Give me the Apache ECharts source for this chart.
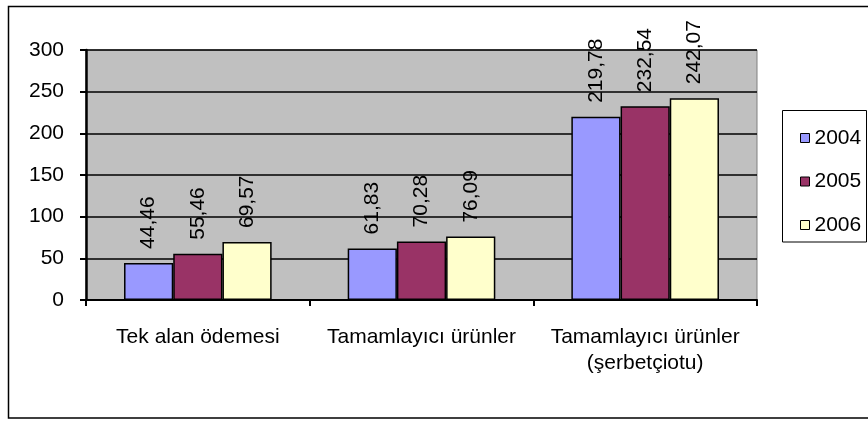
<!DOCTYPE html>
<html>
<head>
<meta charset="utf-8">
<script src="https://cdn.jsdelivr.net/npm/echarts@6/dist/echarts.min.js"></script>
<style>
  html, body { margin: 0; padding: 0; background: #fff; }
  #chart { width: 868px; height: 421px; }
</style>
</head>
<body>
<div id="chart"></div>
<script>
// kategoriler ve yıllar
const categories = ['Tek alan ödemesi', 'Tamamlayıcı ürünler', 'Tamamlayıcı ürünler\n(şerbetçiotu)']
const years = ['2004', '2005', '2006']
const values2004 = [44.46, 61.83, 219.78]
const values2005 = [55.46, 70.28, 232.54]
const values2006 = [69.57, 76.09, 242.07]
const yTicks = [0, 50, 100, 150, 200, 250, 300]

const colors = ['#9999FF', '#993366', '#FFFFCC']
const font = 'Liberation Sans, Arial, sans-serif'
const fs = 21

let myChart = echarts.init(document.getElementById('chart'))

function makeSeries(name, data, color) {
  return {
    name: name,
    type: 'bar',
    data: data,
    barGap: '0%',
    barCategoryGap: '34%',
    itemStyle: {
      color: color,
      borderColor: '#000',
      borderWidth: 1.5
    },
    label: {
      show: true,
      position: 'top',
      rotate: 90,
      align: 'left',
      verticalAlign: 'middle',
      distance: 14,
      fontFamily: font,
      fontSize: fs,
      color: '#000',
      formatter: p => p.value.toFixed(2).replace('.', ',')
    }
  }
}

let option = {
  backgroundColor: '#fff',
  animation: false,
  textStyle: { fontFamily: font },
  grid: {
    left: 86,
    top: 50,
    right: 111,
    bottom: 121,
    show: true,
    backgroundColor: '#C0C0C0',
    borderColor: '#808080',
    borderWidth: 1
  },
  legend: {
    data: years,
    orient: 'vertical',
    left: 795,
    top: 121,
    icon: 'rect',
    itemWidth: 9,
    itemHeight: 9,
    itemGap: 19.5,
    itemStyle: { borderColor: '#000', borderWidth: 1 },
    textStyle: { fontSize: fs, color: '#000', lineHeight: 24 }
  },
  graphic: [
    {
      type: 'rect',
      shape: { x: 8.5, y: 6.5, width: 880, height: 411.5 },
      style: { fill: null, stroke: '#000', lineWidth: 1.5 },
      z: 0
    },
    {
      type: 'rect',
      shape: { x: 782.5, y: 110.5, width: 84, height: 131.5 },
      style: { fill: '#fff', stroke: '#000', lineWidth: 1 },
      z: 1
    }
  ],
  xAxis: {
    type: 'category',
    data: categories,
    axisLine: { show: true, lineStyle: { color: '#000', width: 2 } },
    axisTick: { show: true, alignWithLabel: false, length: 6, lineStyle: { color: '#000', width: 2 } },
    axisLabel: {
      interval: 0,
      margin: 24,
      fontSize: fs,
      color: '#000',
      lineHeight: 26,
      fontFamily: font
    },
    splitLine: { show: false }
  },
  yAxis: {
    type: 'value',
    min: 0,
    max: 300,
    interval: 50,
    axisLine: { show: true, lineStyle: { color: '#000', width: 2.5 } },
    axisTick: { show: true, length: 6, lineStyle: { color: '#000', width: 2 } },
    axisLabel: {
      margin: 22,
      fontSize: fs,
      color: '#000',
      fontFamily: font,
      formatter: v => yTicks.indexOf(v) >= 0 ? String(v) : ''
    },
    splitLine: { show: true, lineStyle: { color: '#000', width: 1.5 } }
  },
  series: [
    makeSeries(years[0], values2004, colors[0]),
    makeSeries(years[1], values2005, colors[1]),
    makeSeries(years[2], values2006, colors[2])
  ]
}

myChart.setOption(option)
</script>
</body>
</html>
